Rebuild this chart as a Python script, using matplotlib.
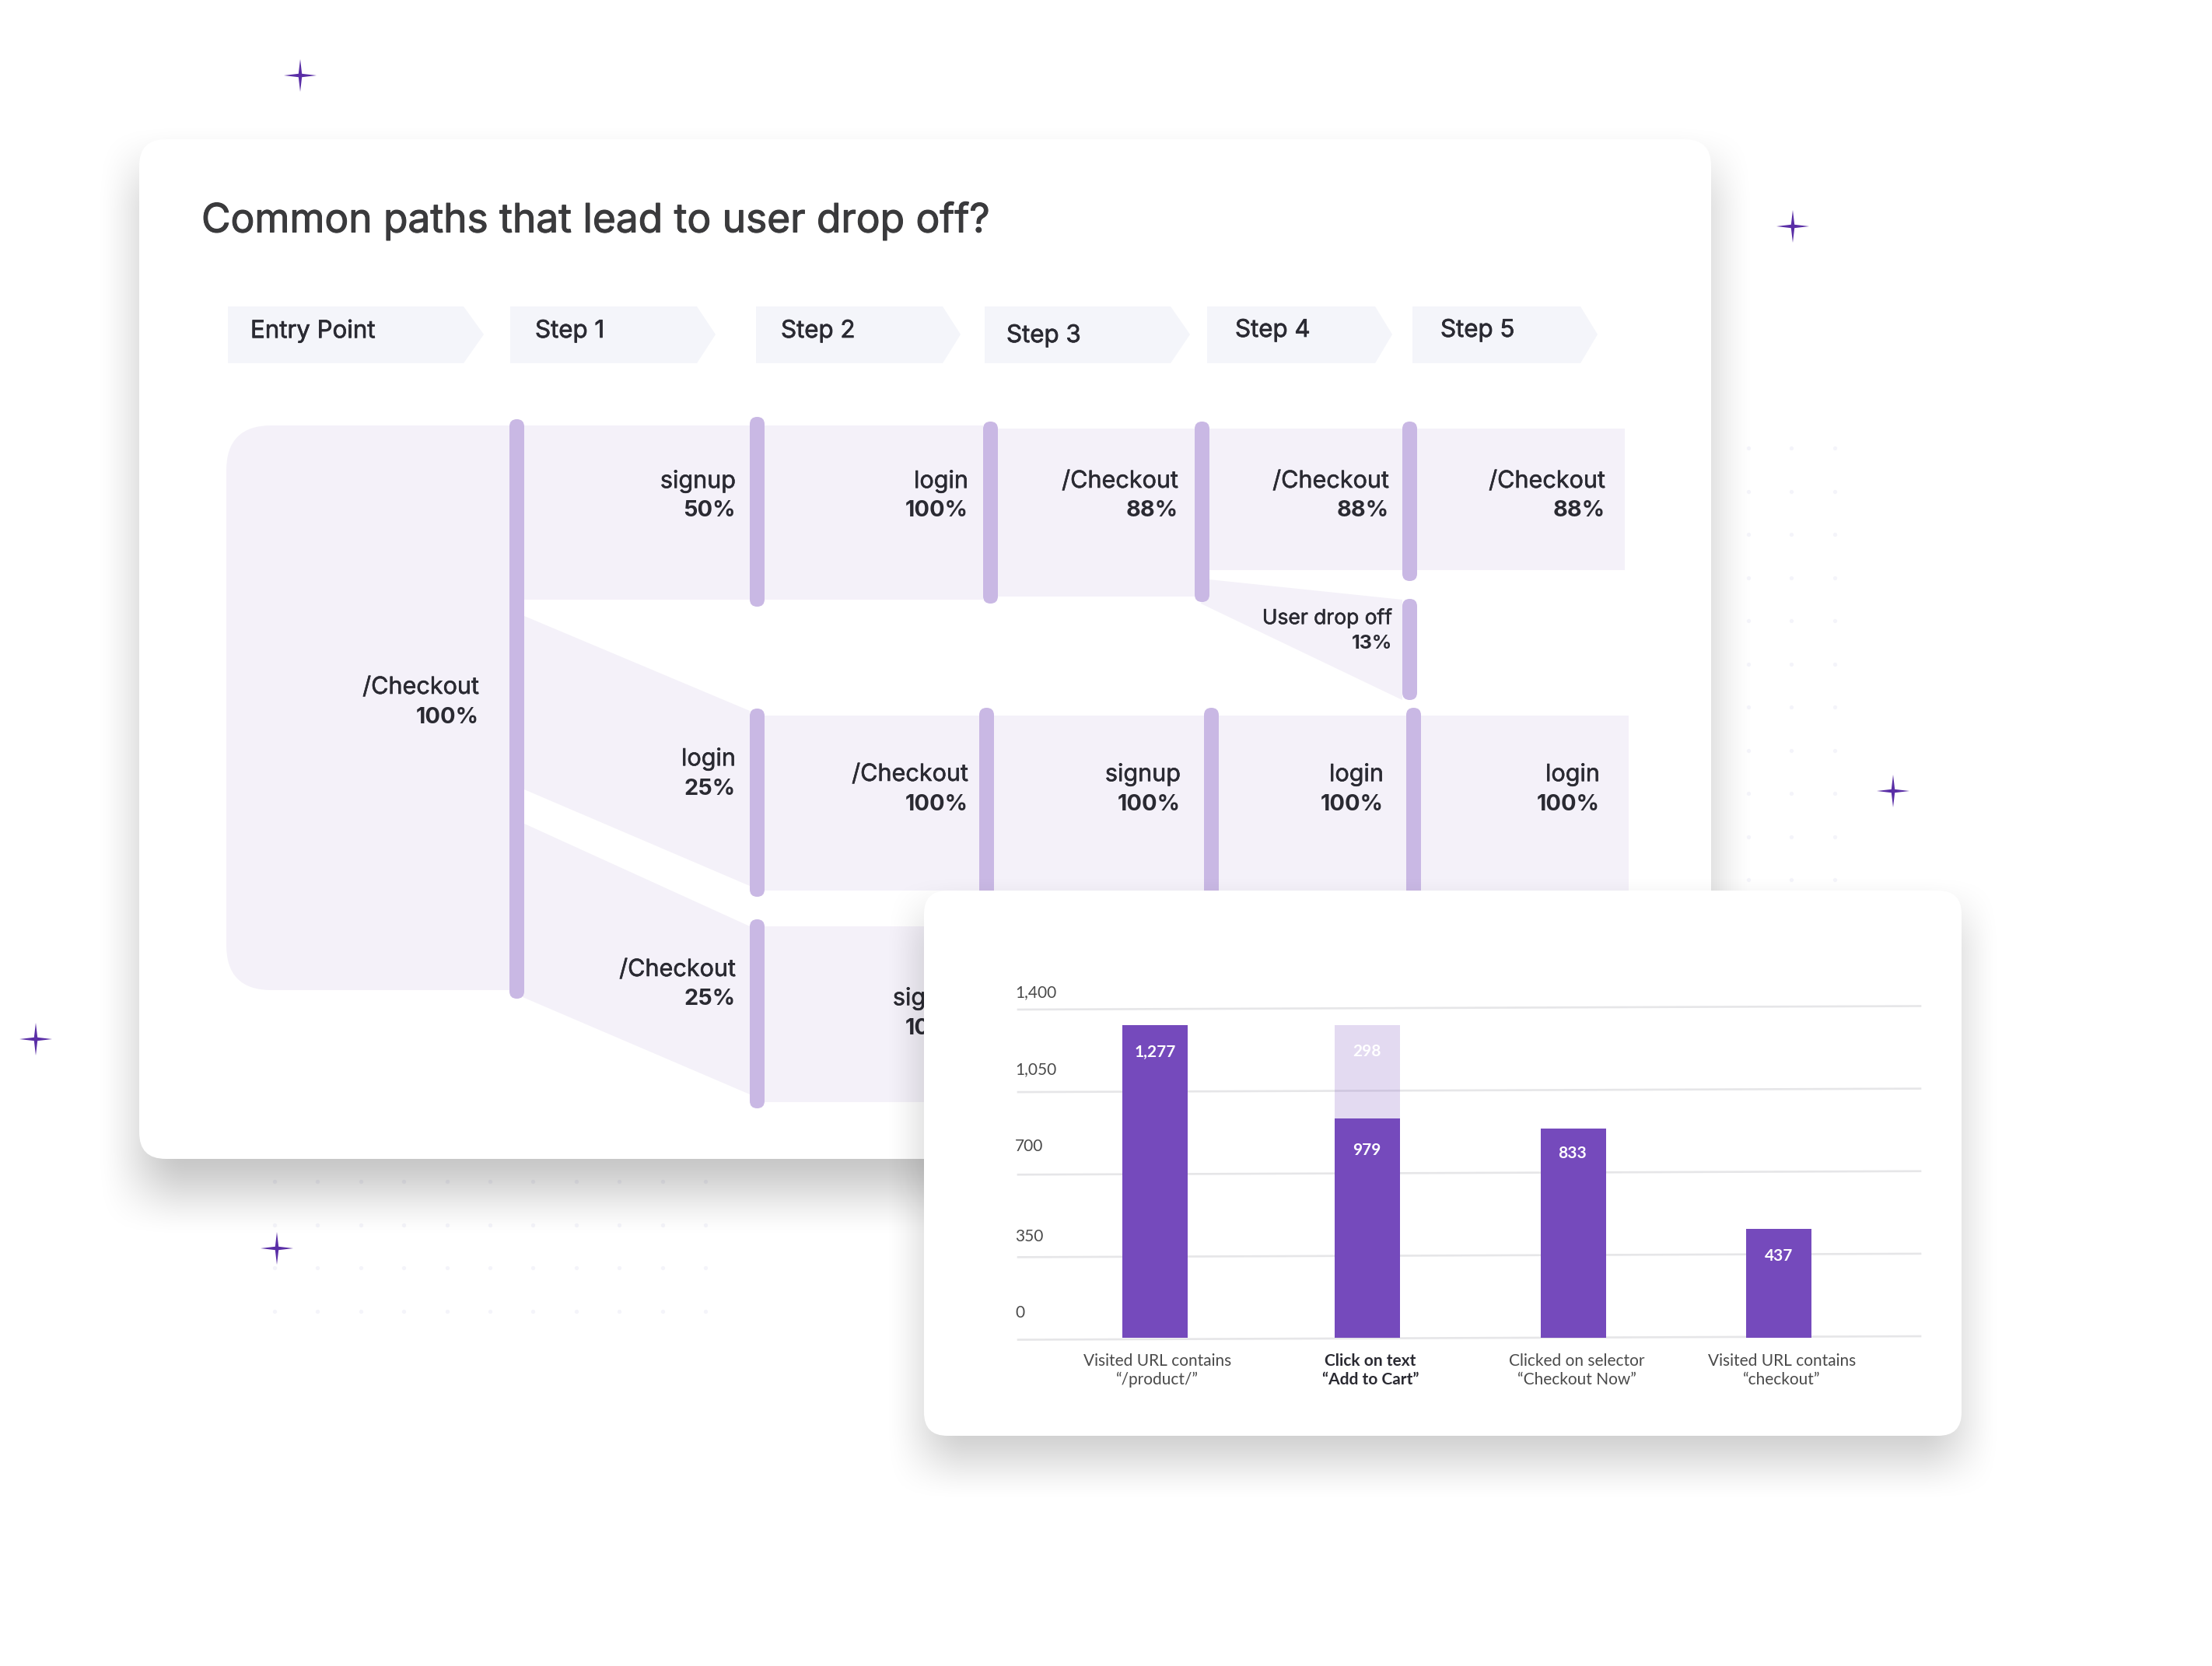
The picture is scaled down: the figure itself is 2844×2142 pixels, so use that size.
import numpy as np
import matplotlib
matplotlib.use('Agg')
import matplotlib.pyplot as plt
import matplotlib.patheffects as pe
from matplotlib.patches import Polygon, FancyBboxPatch, Rectangle

W, H = 2844, 2142

# chart data
categories = [['Visited URL contains', '“/product/”'],
              ['Click on text', '“Add to Cart”'],
              ['Clicked on selector', '“Checkout Now”'],
              ['Visited URL contains', '“checkout”']]
bar_labels = ['1,277', '979', '833', '437']
dropped_label = '298'
# heights as they sit against the gridlines in the picture
bar_heights = [1326, 930, 888, 462]
dropped_heights = [0, 396, 0, 0]
y_ticks = [0, 350, 700, 1050, 1400]
y_tick_labels = ['0', '350', '700', '1,050', '1,400']

step_names = ['Entry Point', 'Step 1', 'Step 2', 'Step 3', 'Step 4', 'Step 5']
node_names = ['/Checkout', 'signup', 'login', '/Checkout', '/Checkout', '/Checkout',
              'User drop off', 'login', '/Checkout', 'signup', 'login', 'login',
              '/Checkout', 'signup']
node_shares = ['100%', '50%', '100%', '88%', '88%', '88%',
               '13%', '25%', '100%', '100%', '100%', '100%',
               '25%', '100%']

# layout, pixels
step_boxes = [(293, 596, 622), (656, 896, 920), (972, 1212, 1235),
              (1266, 1505, 1530), (1552, 1768, 1790), (1816, 2032, 2054)]
step_text = [(322, 426), (688, 426), (1004, 426), (1294, 432), (1588, 425), (1852, 425)]
label_pos = [(616, 884), (946, 619), (1245, 619), (1515, 619), (1786, 619), (2064, 619),
             (1790, 795), (946, 976), (1245, 996), (1518, 996), (1779, 996), (2057, 996),
             (946, 1247), (1245, 1284)]
nodes = [(655, 539, 1284), (964, 536, 780), (1264, 542, 776), (1536, 542, 774),
         (1803, 542, 747), (1803, 770, 900), (964, 911, 1153), (1259, 910, 1180),
         (1548, 910, 1180), (1808, 910, 1180), (964, 1182, 1425)]
bands = [
    [(674, 547), (964, 547), (964, 771), (674, 771)],
    [(983, 547), (1264, 547), (1264, 771), (983, 771)],
    [(1282, 551), (1536, 551), (1536, 767), (1282, 767)],
    [(1554, 551), (1803, 551), (1803, 733), (1554, 733)],
    [(1820, 551), (2089, 551), (2089, 733), (1820, 733)],
    [(1554, 745), (1803, 771), (1803, 900), (1544, 776)],
    [(674, 792), (964, 914), (964, 1139), (674, 1015)],
    [(674, 1059), (964, 1191), (964, 1407), (672, 1282)],
    [(983, 920), (1259, 920), (1259, 1145), (983, 1145)],
    [(1277, 920), (1548, 920), (1548, 1145), (1277, 1145)],
    [(1566, 920), (1808, 920), (1808, 1145), (1566, 1145)],
    [(1827, 920), (2094, 920), (2094, 1145), (1827, 1145)],
    [(983, 1191), (1400, 1191), (1400, 1417), (983, 1417)],
]
stars = [(386, 97), (2305, 291), (2434, 1017), (46, 1336), (356, 1605)]
bar_x = [1485, 1758, 2023, 2287]
bar_w = 84

BAND = '#f4f1f9'
NODE = '#c9b8e4'
CHEVRON = '#f4f5fa'
PURPLE = '#754abc'
DARK = '#2a2a32'
GREY = '#4a4a4a'
SANKEY_FONT = 'Inter'
BAR_FONT = 'Lato'


def add_shadow(ax, x0, y0, x1, y1, blur, strength, zorder):
    # soft falloff on all four sides
    pad = blur * 2
    xs = np.arange(x0 - pad, x1 + pad)
    ys = np.arange(y0 - pad, y1 + pad)
    sx = np.clip((xs - x0 + blur) / (2 * blur), 0, 1) * np.clip((x1 - xs + blur) / (2 * blur), 0, 1)
    sy = np.clip((ys - y0 + blur) / (2 * blur), 0, 1) * np.clip((y1 - ys + blur) / (2 * blur), 0, 1)
    sx = sx * sx * (3 - 2 * sx)
    sy = sy * sy * (3 - 2 * sy)
    img = np.zeros((len(ys), len(xs), 4))
    img[..., 3] = strength * np.outer(sy, sx)
    ax.imshow(img, extent=(xs[0], xs[-1], ys[-1], ys[0]), zorder=zorder, aspect='auto', interpolation='bilinear')


def add_card(ax, x0, y0, x1, y1, r, zorder):
    ax.add_patch(FancyBboxPatch((x0 + r, y0 + r), x1 - x0 - 2 * r, y1 - y0 - 2 * r,
                                boxstyle=f'round,pad={r},rounding_size={r}',
                                fc='white', ec='none', zorder=zorder))


def add_pill(ax, x, top, bottom, w=19):
    r = w / 2
    ax.add_patch(FancyBboxPatch((x + r, top + r), 0, bottom - top - w,
                                boxstyle=f'round,pad={r},rounding_size={r}',
                                fc=NODE, ec='none', zorder=5))


def add_star(ax, cx, cy, r=21, q=2.2):
    pts = [(cx, cy - r), (cx + q, cy - q), (cx + r, cy), (cx + q, cy + q),
           (cx, cy + r), (cx - q, cy + q), (cx - r, cy), (cx - q, cy - q)]
    ax.add_patch(Polygon(pts, closed=True, fc='#5a2ea6', ec='none', zorder=1))


def heavier(color, lw=0.5):
    # the font here has no medium weight, thicken the outline a little
    return [pe.withStroke(linewidth=lw, foreground=color)]


fig = plt.figure(figsize=(W / 100, H / 100), dpi=100, facecolor='white')
ax = fig.add_axes([0, 0, 1, 1], zorder=1)
ax.axis('off')

# faint dot grids behind the cards
for gx, gy in [(np.arange(353, 910, 55.4), np.arange(1519, 1690, 55.5)),
               (np.arange(2248, 2370, 55.4), np.arange(576, 1140, 55.5))]:
    xx, yy = np.meshgrid(gx, gy)
    ax.scatter(xx.ravel(), yy.ravel(), s=14, color='#f4f4fa', linewidths=0, zorder=0.5)

for cx, cy in stars:
    add_star(ax, cx, cy)

# main card
add_shadow(ax, 179, 215, 2200, 1535, 60, 0.23, 2)
add_card(ax, 179, 179, 2200, 1490, 34, 3)
ax.text(259, 284, 'Common paths that lead to user drop off?', fontsize=37, color='#3a3a3c',
        family=SANKEY_FONT, va='center', ha='left', zorder=6, path_effects=heavier('#3a3a3c', 0.8))

for (x0, x1, tip), (tx, ty), name in zip(step_boxes, step_text, step_names):
    ax.add_patch(Polygon([(x0, 394), (x1, 394), (tip, 430), (x1, 467), (x0, 467)],
                         closed=True, fc=CHEVRON, ec='none', zorder=4))
    ax.text(tx, ty, name, fontsize=22.5, color=DARK, family=SANKEY_FONT, va='center', ha='left', zorder=6,
            path_effects=heavier(DARK))

# sankey flows
ax.add_patch(FancyBboxPatch((291 + 58, 547 + 58), 665 - 291 - 116, 1273 - 547 - 116,
                            boxstyle='round,pad=58,rounding_size=58', fc=BAND, ec='none', zorder=4))
ax.add_patch(Rectangle((420, 547), 245, 726, fc=BAND, ec='none', zorder=4))
for pts in bands:
    ax.add_patch(Polygon(pts, closed=True, fc=BAND, ec='none', zorder=4))
for x, top, bottom in nodes:
    add_pill(ax, x, top, bottom)

for (x, y), name, share in zip(label_pos, node_names, node_shares):
    small = name == 'User drop off'
    size = 19 if small else 22
    gap = 33 if small else 38
    ax.text(x, y, name, fontsize=size, color=DARK, family=SANKEY_FONT, ha='right', va='center', zorder=6,
            path_effects=heavier(DARK, 0.4))
    ax.text(x, y + gap, share, fontsize=18 if small else 20.8, color=DARK, family=SANKEY_FONT, weight='bold',
            ha='right', va='center', zorder=6)

# bar chart card
add_shadow(ax, 1188, 1175, 2522, 1880, 55, 0.2, 7)
add_card(ax, 1188, 1145, 2522, 1846, 30, 8)

ax.set_xlim(0, W)
ax.set_ylim(H, 0)

# bars, the axes runs over the gridline extent
x_left, x_right = 1309, 2469
y_top, y_zero = 1295.75, 1720.25
ax_bar = fig.add_axes([x_left / W, 1 - y_zero / H, (x_right - x_left) / W, (y_zero - y_top) / H], zorder=2)
ax_bar.patch.set_alpha(0)
ax_bar.axis('off')
ax_bar.set_xlim(x_left, x_right)
ax_bar.set_ylim(0, 1400)
tilt = 7.4  # gridlines rise slightly to the right
for v in y_ticks:
    ax_bar.plot([x_left, x_right], [v - tilt, v + tilt], color='#e6e6e8', lw=1.9, clip_on=False, zorder=1)
ax_bar.bar(bar_x, bar_heights, width=bar_w, color=PURPLE, zorder=3)
ax_bar.bar(bar_x, dropped_heights, bottom=bar_heights, width=bar_w, color=PURPLE, alpha=0.2, zorder=3)

# text over the chart
ax_text = fig.add_axes([0, 0, 1, 1], zorder=3)
ax_text.axis('off')
ax_text.set_xlim(0, W)
ax_text.set_ylim(H, 0)
tick_y = [1688, 1590, 1474, 1375, 1276]
for lab, ty in zip(y_tick_labels, tick_y):
    ax_text.text(1305, ty, lab, fontsize=15, color=GREY, family=BAR_FONT, ha='left', va='center')
cat_x = [1488, 1762, 2027, 2291]
for i, (lines, cx) in enumerate(zip(categories, cat_x)):
    bold = i == 1
    for line, ly in zip(lines, [1750, 1774]):
        ax_text.text(cx, ly, line, fontsize=15, color='#2a2a32' if bold else GREY, family=BAR_FONT,
                     weight='bold' if bold else 'normal', ha='center', va='center')
val_pos = [(1485, 1353), (1757, 1479), (2022, 1483), (2287, 1615)]
for lab, (vx, vy) in zip(bar_labels, val_pos):
    ax_text.text(vx, vy, lab, fontsize=15, color='white', family=BAR_FONT, weight='bold', ha='center', va='center')
ax_text.text(1757, 1352, dropped_label, fontsize=15, color='white', family=BAR_FONT, weight='bold',
             ha='center', va='center')

fig.savefig('out.png', dpi=100)
